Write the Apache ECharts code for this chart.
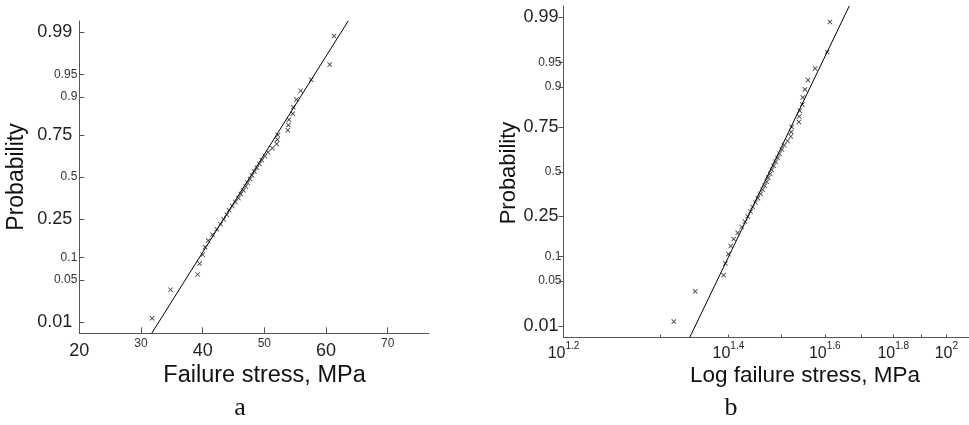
<!DOCTYPE html>
<html>
<head>
<meta charset="utf-8">
<script src="https://cdn.jsdelivr.net/npm/echarts@6/dist/echarts.min.js"></script>
<style>
html,body{margin:0;padding:0;background:#fff;}
#chart{width:969px;height:425px;}
</style>
</head>
<body>
<div id="chart"></div>
<script>
// ---- data ----
const stress = [31.8,34.8,39.2,39.5,40.0,40.4,40.9,41.6,42.3,42.9,43.4,43.9,44.3,44.8,45.3,45.8,46.2,46.6,47.0,47.3,47.7,48.0,48.4,48.8,49.2,49.6,50.1,50.6,51.3,52.0,52.1,52.2,53.8,53.9,54.0,54.6,54.7,55.2,55.9,57.6,60.6,61.3];
const prob = [0.0119,0.0357,0.0595,0.0833,0.1071,0.1310,0.1548,0.1786,0.2024,0.2262,0.2500,0.2738,0.2976,0.3214,0.3452,0.3690,0.3929,0.4167,0.4405,0.4643,0.4881,0.5119,0.5357,0.5595,0.5833,0.6071,0.6310,0.6548,0.6786,0.7024,0.7262,0.7500,0.7738,0.7976,0.8214,0.8452,0.8690,0.8929,0.9167,0.9405,0.9643,0.9881];
const fitA_stress = [31.74, 63.6];
const fitB_stress = [34.0, 66.5];
const fit_prob = [0.00621, 0.99379];
const probTicks = [0.01,0.05,0.1,0.25,0.5,0.75,0.9,0.95,0.99];
const probTickLabels = ['0.01','0.05','0.1','0.25','0.5','0.75','0.9','0.95','0.99'];
const bigProbLabels = ['0.01','0.25','0.75','0.99'];
const xTicksA = [20,30,40,50,60,70];
const bigXLabelsA = [20,40,60];
const xTicksB = [20,30,40,50,60,70,80,90,100];
const xLabelValsB = [20,40,60,80,100];
const xLabelExpB = ['1.2','1.4','1.6','1.8','2'];

// normal probability scale (inverse normal CDF, Acklam)
function probit(p){
  const a=[-3.969683028665376e+01,2.209460984245205e+02,-2.759285104469687e+02,1.383577518672690e+02,-3.066479806614716e+01,2.506628277459239e+00];
  const b=[-5.447609879822406e+01,1.615858368580409e+02,-1.556989798598866e+02,6.680131188771972e+01,-1.328068155288572e+01];
  const c=[-7.784894002430293e-03,-3.223964580411365e-01,-2.400758277161838e+00,-2.549732539343734e+00,4.374664141464968e+00,2.938163982698783e+00];
  const d=[7.784695709041462e-03,3.224671290700398e-01,2.445134137142996e+00,3.754408661907416e+00];
  const pl=0.02425, ph=1-pl;
  let q,r;
  if(p<pl){q=Math.sqrt(-2*Math.log(p));return (((((c[0]*q+c[1])*q+c[2])*q+c[3])*q+c[4])*q+c[5])/((((d[0]*q+d[1])*q+d[2])*q+d[3])*q+1);}
  if(p>ph){q=Math.sqrt(-2*Math.log(1-p));return -(((((c[0]*q+c[1])*q+c[2])*q+c[3])*q+c[4])*q+c[5])/((((d[0]*q+d[1])*q+d[2])*q+d[3])*q+1);}
  q=p-0.5;r=q*q;
  return (((((a[0]*r+a[1])*r+a[2])*r+a[3])*r+a[4])*r+a[5])*q/(((((b[0]*r+b[1])*r+b[2])*r+b[3])*r+b[4])*r+1);
}
const zTicks = probTicks.map(probit);
function probLabel(v){
  let best=0;
  for(let i=1;i<zTicks.length;i++){ if(Math.abs(zTicks[i]-v)<Math.abs(zTicks[best]-v)) best=i; }
  return probTickLabels[best];
}

const FONT = '"Liberation Sans", Arial, sans-serif';
const AX = '#555';
const XMARK = 'path://M0,1.2L1.2,0L5,3.8L8.8,0L10,1.2L6.2,5L10,8.8L8.8,10L5,6.2L1.2,10L0,8.8L3.8,5Z';

function yAxisCfg(gridIndex, inside, bigPad){
  return {
    type:'value', gridIndex, min:-2.5, max:2.5,
    splitLine:{show:false},
    axisLine:{show:true, lineStyle:{color:AX,width:1}},
    axisTick:{show:true, inside:inside, length:5, customValues:zTicks, lineStyle:{color:AX}},
    axisLabel:{
      customValues:zTicks, margin:2, fontFamily:FONT, color:'#222',
      formatter:function(v){ const s=probLabel(v); return bigProbLabels.indexOf(s)>=0 ? '{big|'+s+'}' : '{sm|'+s+'}'; },
      rich:{
        big:{fontSize:18, fontFamily:FONT, color:'#222', padding:[0,bigPad,0,0]},
        sm:{fontSize:12, fontFamily:FONT, color:'#333'}
      }
    }
  };
}

const chart = echarts.init(document.getElementById('chart'), null, {renderer:'canvas'});
chart.setOption({
  animation:false,
  backgroundColor:'#fff',
  grid:[
    {left:79.3, top:21, width:349.7, height:312.3},
    {left:563.5, top:6, width:405.5, height:331.5}
  ],
  xAxis:[
    {
      type:'value', gridIndex:0, min:20, max:76.7,
      splitLine:{show:false},
      axisLine:{show:true, onZero:false, lineStyle:{color:AX,width:1}},
      axisTick:{show:true, inside:true, length:6, customValues:xTicksA, lineStyle:{color:AX}},
      axisLabel:{
        customValues:xTicksA, margin:4, fontFamily:FONT,
        formatter:function(v){ return bigXLabelsA.indexOf(v)>=0 ? '{big|'+v+'}' : '{sm|'+v+'}'; },
        rich:{
          big:{fontSize:18, fontFamily:FONT, color:'#222', padding:[5,0,0,0]},
          sm:{fontSize:12, fontFamily:FONT, color:'#333'}
        }
      }
    },
    {
      type:'log', logBase:10, gridIndex:1, min:20, max:110,
      splitLine:{show:false},
      axisLine:{show:true, onZero:false, lineStyle:{color:AX,width:1}},
      axisTick:{show:true, inside:true, length:3, customValues:xTicksB, lineStyle:{color:AX}},
      axisLabel:{
        customValues:xLabelValsB, margin:4, fontFamily:FONT,
        formatter:function(v){
          let best=0;
          for(let i=1;i<xLabelValsB.length;i++){ if(Math.abs(xLabelValsB[i]-v)<Math.abs(xLabelValsB[best]-v)) best=i; }
          return '{b|10}{s|'+xLabelExpB[best]+'}';
        },
        rich:{
          b:{fontSize:16, fontFamily:FONT, color:'#222', lineHeight:20, verticalAlign:'bottom'},
          s:{fontSize:10, fontFamily:FONT, color:'#222', lineHeight:20, verticalAlign:'top'}
        }
      }
    }
  ],
  yAxis:[ yAxisCfg(0, true, 5), yAxisCfg(1, false, 3) ],
  series:[
    {
      type:'line', xAxisIndex:0, yAxisIndex:0, showSymbol:false, symbol:'none',
      lineStyle:{color:'#000', width:1}, silent:true,
      data: fitA_stress.map((s,i)=>[s, probit(fit_prob[i])])
    },
    {
      type:'scatter', xAxisIndex:0, yAxisIndex:0, symbol:XMARK, symbolSize:5,
      itemStyle:{color:'#111'},
      data: stress.map((s,i)=>[s, probit(prob[i])])
    },
    {
      type:'line', xAxisIndex:1, yAxisIndex:1, showSymbol:false, symbol:'none',
      lineStyle:{color:'#000', width:1}, silent:true,
      data: fitB_stress.map((s,i)=>[s, probit(fit_prob[i])])
    },
    {
      type:'scatter', xAxisIndex:1, yAxisIndex:1, symbol:XMARK, symbolSize:5,
      itemStyle:{color:'#111'},
      data: stress.map((s,i)=>[s, probit(prob[i])])
    }
  ],
  graphic:[
    {type:'text', x:17, y:177, rotation:Math.PI/2, style:{text:'Probability', font:'23px '+FONT, fill:'#111', align:'center', verticalAlign:'middle'}},
    {type:'text', x:509, y:173, rotation:Math.PI/2, style:{text:'Probability', font:'22px '+FONT, fill:'#111', align:'center', verticalAlign:'middle'}},
    {type:'text', x:264.5, y:376, style:{text:'Failure stress, MPa', font:'23.5px '+FONT, fill:'#111', align:'center', verticalAlign:'middle'}},
    {type:'text', x:805, y:376, style:{text:'Log failure stress, MPa', font:'22.5px '+FONT, fill:'#111', align:'center', verticalAlign:'middle'}},
    {type:'text', x:240, y:408, style:{text:'a', font:'26px "Liberation Serif", "Times New Roman", serif', fill:'#111', align:'center', verticalAlign:'middle'}},
    {type:'text', x:731, y:408, style:{text:'b', font:'26px "Liberation Serif", "Times New Roman", serif', fill:'#111', align:'center', verticalAlign:'middle'}}
  ]
});
</script>
</body>
</html>
